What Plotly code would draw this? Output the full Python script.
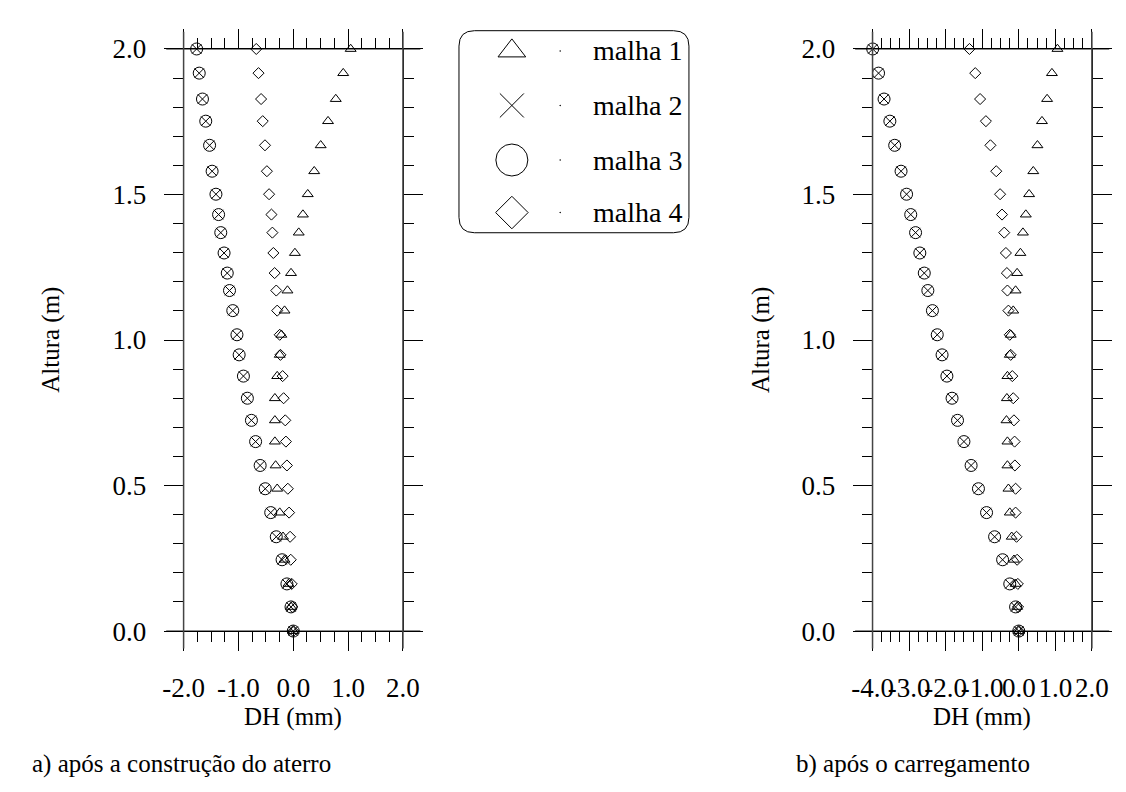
import plotly.graph_objects as go

# ---------------- data ----------------
altura = [2.000, 1.917, 1.828, 1.752, 1.669, 1.580, 1.501, 1.431, 1.369, 1.299,
          1.230, 1.170, 1.101, 1.018, 0.949, 0.876, 0.800, 0.724, 0.651, 0.569,
          0.489, 0.407, 0.324, 0.245, 0.162, 0.083, 0.000]

# a) após a construção do aterro
a_malha1 = [1.047, 0.911, 0.775, 0.634, 0.500, 0.382, 0.264, 0.176, 0.100, 0.030,
            -0.041, -0.106, -0.159, -0.217, -0.247, -0.293, -0.335, -0.335, -0.335, -0.322,
            -0.293, -0.247, -0.187, -0.159, -0.088, -0.041, 0.000]
a_malha2 = [-1.762, -1.715, -1.656, -1.596, -1.526, -1.480, -1.410, -1.362, -1.322, -1.262,
            -1.204, -1.163, -1.103, -1.027, -0.987, -0.909, -0.837, -0.763, -0.687, -0.604,
            -0.511, -0.411, -0.310, -0.204, -0.116, -0.041, 0.000]
a_malha3 = [-1.762, -1.715, -1.656, -1.596, -1.526, -1.480, -1.410, -1.362, -1.322, -1.262,
            -1.204, -1.163, -1.103, -1.027, -0.987, -0.909, -0.837, -0.763, -0.687, -0.604,
            -0.511, -0.411, -0.310, -0.204, -0.116, -0.041, 0.000]
a_malha4 = [-0.675, -0.634, -0.587, -0.557, -0.516, -0.481, -0.441, -0.398, -0.381, -0.363,
            -0.340, -0.310, -0.293, -0.247, -0.234, -0.194, -0.176, -0.146, -0.134, -0.116,
            -0.099, -0.076, -0.058, -0.046, -0.028, -0.018, 0.000]

# b) após o carregamento
b_malha1 = [1.058, 0.907, 0.775, 0.635, 0.511, 0.397, 0.283, 0.193, 0.114, 0.045,
            -0.045, -0.087, -0.151, -0.220, -0.246, -0.310, -0.325, -0.336, -0.310, -0.310,
            -0.283, -0.246, -0.193, -0.132, -0.087, -0.045, 0.000]
b_malha2 = [-3.995, -3.836, -3.685, -3.526, -3.394, -3.220, -3.069, -2.955, -2.823, -2.706,
            -2.585, -2.487, -2.362, -2.230, -2.098, -1.966, -1.825, -1.675, -1.500, -1.304,
            -1.103, -0.881, -0.661, -0.442, -0.246, -0.087, 0.000]
b_malha3 = [-3.995, -3.836, -3.685, -3.526, -3.394, -3.220, -3.069, -2.955, -2.823, -2.706,
            -2.585, -2.487, -2.362, -2.230, -2.098, -1.966, -1.825, -1.675, -1.500, -1.304,
            -1.103, -0.881, -0.661, -0.442, -0.246, -0.087, 0.000]
b_malha4 = [-1.349, -1.190, -1.058, -0.899, -0.775, -0.616, -0.511, -0.458, -0.397, -0.352,
            -0.325, -0.310, -0.283, -0.246, -0.220, -0.177, -0.151, -0.132, -0.114, -0.106,
            -0.087, -0.087, -0.061, -0.045, -0.026, -0.019, 0.000]

series_names = ["malha 1", "malha 2", "malha 3", "malha 4"]
xticks_a = [-2.0, -1.0, 0.0, 1.0, 2.0]
xticktext_a = ["-2.0", "-1.0", "0.0", "1.0", "2.0"]
xticks_b = [-4.0, -3.0, -2.0, -1.0, 0.0, 1.0, 2.0]
xticktext_b = ["-4.0", "-3.0", "-2.0", "-1.0", "0.0", "1.0", "2.0"]
yticks = [0.0, 0.5, 1.0, 1.5, 2.0]
yticktext = ["0.0", "0.5", "1.0", "1.5", "2.0"]
x_title = "DH (mm)"
y_title = "Altura (m)"
caption_a = "a) após a construção do aterro"
caption_b = "b) após o carregamento"

# ---------------- styles ----------------
W, H = 1126, 792
FONT = "Liberation Serif"
symbols = ["triangle-up-open", "x-thin-open", "circle-open", "diamond-open"]
sizes = [9.5, 9.5, 12, 8.5]
leg_sizes = [24, 24, 32, 25]

def px_x(p):
    return p / W

def px_y(p):
    return 1 - p / H

fig = go.Figure()

panels = [
    ("x", "y", [a_malha1, a_malha2, a_malha3, a_malha4]),
    ("x2", "y2", [b_malha1, b_malha2, b_malha3, b_malha4]),
]
for xa, ya, series in panels:
    for name, vals, sym, sz in zip(series_names, series, symbols, sizes):
        fig.add_trace(go.Scatter(
            x=vals, y=altura, mode="markers", name=name, xaxis=xa, yaxis=ya,
            showlegend=False, cliponaxis=False,
            marker=dict(symbol=sym, size=sz, color="black",
                        line=dict(width=1, color="black")),
        ))

# custom legend (hidden axes x3/y3)
leg_rows = [0.9, 0.63, 0.36, 0.1]
for name, sym, sz, yy in zip(series_names, symbols, leg_sizes, leg_rows):
    fig.add_trace(go.Scatter(
        x=[0.23], y=[yy], mode="markers", xaxis="x3", yaxis="y3", showlegend=False,
        cliponaxis=False,
        marker=dict(symbol=sym, size=sz, color="black", line=dict(width=1, color="black")),
    ))
    fig.add_trace(go.Scatter(
        x=[0.44], y=[yy], mode="markers", xaxis="x3", yaxis="y3", showlegend=False,
        marker=dict(symbol="circle", size=1.5, color="black"),
    ))

ydom = [px_y(632), px_y(27)]
xdom1 = [px_x(160), px_x(387)]
xdom2 = [px_x(873), px_x(1100)]

tickfont = dict(family=FONT, size=27, color="black")
common_x = dict(
    showgrid=False, zeroline=False, showline=True, linecolor="black", linewidth=1,
    mirror="allticks", ticks="outside", ticklen=19, tickwidth=1, tickcolor="black",
    tickfont=tickfont, tickangle=0, tickmode="array", ticklabelstandoff=14,
    minor=dict(ticks="outside", ticklen=10, tickwidth=1, tickcolor="black",
               tickmode="linear", dtick=0.25, showgrid=False),
)
common_y = dict(
    showgrid=False, zeroline=False, showline=True, linecolor="black", linewidth=1,
    mirror="allticks", ticks="outside", ticklen=19, tickwidth=1, tickcolor="black",
    tickfont=tickfont, range=[0, 2], tickmode="array", tickvals=yticks, ticktext=yticktext,
    ticklabelstandoff=12,
    minor=dict(ticks="outside", ticklen=10, tickwidth=1, tickcolor="black",
               tickmode="linear", tick0=0, dtick=0.1, showgrid=False),
)

fig.update_layout(
    width=W, height=H,
    margin=dict(l=0, r=0, t=0, b=0),
    paper_bgcolor="white", plot_bgcolor="white",
    showlegend=False,
    font=dict(family=FONT, color="black"),
    xaxis=dict(domain=xdom1, range=[-2, 2], anchor="y", tickvals=xticks_a, ticktext=xticktext_a, **common_x),
    yaxis=dict(domain=ydom, anchor="x", **common_y),
    xaxis2=dict(domain=xdom2, range=[-4, 2], anchor="y2", tickvals=xticks_b, ticktext=xticktext_b, **common_x),
    yaxis2=dict(domain=ydom, anchor="x2", **common_y),
    xaxis3=dict(domain=[px_x(445), px_x(683)], range=[0, 1], anchor="y3", visible=False, fixedrange=True),
    yaxis3=dict(domain=[px_y(218), px_y(8)], range=[0, 1], anchor="x3", visible=False, fixedrange=True),
)
fig.update_xaxes(minor_tick0=-4, selector=dict(anchor="y2"))
fig.update_xaxes(minor_tick0=-2, selector=dict(anchor="y"))

shapes = []
# extended axis lines (overhang past the frame)
for xr, yr in [("x domain", "y domain"), ("x2 domain", "y2 domain")]:
    ox = 18 / 227
    oy = 18 / 605
    shapes += [
        dict(type="line", xref=xr, yref=yr, x0=-ox, x1=1 + ox, y0=0, y1=0, line=dict(color="black", width=1)),
        dict(type="line", xref=xr, yref=yr, x0=-ox, x1=1 + ox, y0=1, y1=1, line=dict(color="black", width=1)),
        dict(type="line", xref=xr, yref=yr, x0=0, x1=0, y0=-oy, y1=1 + oy, line=dict(color="#444", width=1.5)),
        dict(type="line", xref=xr, yref=yr, x0=1, x1=1, y0=-oy, y1=1 + oy, line=dict(color="#444", width=1.5)),
    ]
# rounded legend box
x0, x1 = px_x(445), px_x(683)
y0, y1 = px_y(218), px_y(8)
rx, ry = 16 / W, 16 / H
path = (f"M {x0+rx},{y1} L {x1-rx},{y1} Q {x1},{y1} {x1},{y1-ry} "
        f"L {x1},{y0+ry} Q {x1},{y0} {x1-rx},{y0} L {x0+rx},{y0} "
        f"Q {x0},{y0} {x0},{y0+ry} L {x0},{y1-ry} Q {x0},{y1} {x0+rx},{y1} Z")
shapes.append(dict(type="path", xref="paper", yref="paper", path=path,
                   line=dict(color="black", width=1)))
fig.update_layout(shapes=shapes)

tf = dict(family=FONT, size=25, color="black")
ann = []
for name, yy in zip(series_names, leg_rows):
    ann.append(dict(text=name, x=0.575, y=yy, xref="x3", yref="y3", xanchor="left",
                    yanchor="middle", showarrow=False, font=dict(family=FONT, size=28, color="black")))
# axis titles
ann += [
    dict(text=x_title, x=0.5, y=px_y(721), xref="x domain", yref="paper", showarrow=False,
         xanchor="center", yanchor="middle", font=tf),
    dict(text=x_title, x=0.5, y=px_y(721), xref="x2 domain", yref="paper", showarrow=False,
         xanchor="center", yanchor="middle", font=tf),
    dict(text=y_title, x=px_x(22), y=px_y(329), xref="paper", yref="paper", showarrow=False,
         textangle=-90, xanchor="center", yanchor="middle", font=tf),
    dict(text=y_title, x=px_x(757), y=px_y(329), xref="paper", yref="paper", showarrow=False,
         textangle=-90, xanchor="center", yanchor="middle", font=tf),
    dict(text=caption_a, x=px_x(1), y=px_y(770), xref="paper", yref="paper", showarrow=False,
         xanchor="left", yanchor="middle", font=tf),
    dict(text=caption_b, x=px_x(792), y=px_y(770), xref="paper", yref="paper", showarrow=False,
         xanchor="left", yanchor="middle", font=tf),
]
fig.update_layout(annotations=ann)

fig.write_html("out.html")
